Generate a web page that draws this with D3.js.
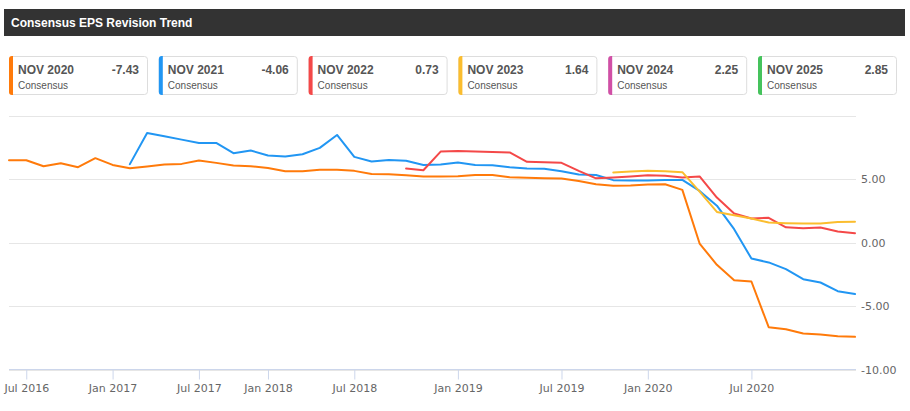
<!DOCTYPE html>
<html>
<head>
<meta charset="utf-8">
<script src="https://cdn.jsdelivr.net/npm/d3@7"></script>
<style>
  body { margin: 0; background: #fff; }
  svg { display: block; }
</style>
</head>
<body>
<svg id="chart" width="910" height="411"></svg>
<script>
// ---- data ----
const legendNames = ["NOV 2020", "NOV 2021", "NOV 2022", "NOV 2023", "NOV 2024", "NOV 2025"];
const legendValues = ["-7.43", "-4.06", "0.73", "1.64", "2.25", "2.85"];
const legendSub = "Consensus";
const colors = ["#ff7a0a", "#2196f3", "#f44848", "#fbbd2e", "#d14fa6", "#45c35c"];

const nov2020 = [6.48,6.48,6.00,6.24,5.93,6.64,6.11,5.85,5.98,6.14,6.19,6.45,6.27,6.06,6.01,5.87,5.61,5.61,5.72,5.72,5.64,5.40,5.38,5.30,5.20,5.20,5.22,5.32,5.32,5.14,5.09,5.06,5.04,4.85,4.59,4.46,4.49,4.57,4.59,4.14,-0.08,-1.76,-2.97,-3.07,-6.67,-6.83,-7.17,-7.24,-7.38,-7.43];
const nov2021 = [null,null,null,null,null,null,null,6.17,8.63,8.37,8.10,7.84,7.84,7.03,7.24,6.85,6.77,6.95,7.45,8.47,6.74,6.38,6.50,6.43,6.11,6.14,6.30,6.11,6.09,5.93,5.83,5.80,5.61,5.35,5.32,4.91,4.88,4.88,4.93,4.93,4.06,2.90,1.05,-1.26,-1.57,-2.10,-2.89,-3.15,-3.83,-4.06];
const nov2022 = [null,null,null,null,null,null,null,null,null,null,null,null,null,null,null,null,null,null,null,null,null,null,null,5.83,5.69,7.16,7.21,7.16,7.13,7.09,6.35,6.32,6.27,5.64,5.05,5.12,5.20,5.30,5.25,5.12,5.20,3.54,2.28,1.89,1.94,1.20,1.13,1.18,0.87,0.73];
const nov2023 = [null,null,null,null,null,null,null,null,null,null,null,null,null,null,null,null,null,null,null,null,null,null,null,null,null,null,null,null,null,null,null,null,null,null,null,5.51,5.59,5.64,5.61,5.54,4.00,2.41,2.15,1.89,1.57,1.52,1.50,1.50,1.62,1.64];
const seriesList = [nov2020, nov2021, nov2022, nov2023];

// x axis ticks: point index -> label (ordinal time axis)
const xTickIndex = [1, 6, 11, 15, 20, 26, 32, 37, 43];
const xTickLabels = ["Jul 2016", "Jan 2017", "Jul 2017", "Jan 2018", "Jul 2018", "Jan 2019", "Jul 2019", "Jan 2020", "Jul 2020"];
const yTicks = [-10, -5, 0, 5];
const yTickLabels = ["-10.00", "-5.00", "0.00", "5.00"];
const yGrid = [-10, -5, 0, 5, 10];

// ---- drawing ----
const svg = d3.select("#chart");

// title bar
svg.append("rect").attr("x", 4).attr("y", 9).attr("width", 901).attr("height", 27).attr("fill", "#333333");
svg.append("text").attr("x", 11).attr("y", 27)
  .attr("font-family", "Liberation Sans, Arial, sans-serif")
  .attr("font-size", 12).attr("font-weight", "bold").attr("fill", "#ffffff")
  .text("Consensus EPS Revision Trend");

// legend boxes
const lg = svg.selectAll("g.legend").data(legendNames).join("g")
  .attr("class", "legend")
  .attr("transform", (d, i) => `translate(${9 + i * 149.8},56)`);
lg.append("rect").attr("x", 0.5).attr("y", 0.5).attr("width", 138).attr("height", 38)
  .attr("rx", 3).attr("fill", "#fff").attr("stroke", "#dddddd");
lg.append("path").attr("d", "M4,0 H3 A3,3 0 0 0 0,3 V36 A3,3 0 0 0 3,39 H4 Z")
  .attr("fill", (d, i) => colors[i]);
lg.append("text").attr("x", 9).attr("y", 17.5)
  .attr("font-family", "Liberation Sans, Arial, sans-serif").attr("font-size", 12)
  .attr("font-weight", "bold").attr("fill", "#555").text(d => d);
lg.append("text").attr("x", 130).attr("y", 17.5).attr("text-anchor", "end")
  .attr("font-family", "Liberation Sans, Arial, sans-serif").attr("font-size", 12)
  .attr("font-weight", "bold").attr("fill", "#555").text((d, i) => legendValues[i]);
lg.append("text").attr("x", 9).attr("y", 32.5)
  .attr("font-family", "Liberation Sans, Arial, sans-serif").attr("font-size", 10)
  .attr("fill", "#555").text(legendSub);

// scales
const x = d3.scaleLinear().domain([0, nov2020.length - 1]).range([9, 855]);
const y = d3.scaleLinear().domain([-10, 10]).range([369.5, 115.5]);

// grid
svg.append("g").selectAll("line").data(yGrid).join("line")
  .attr("x1", 9).attr("x2", 856)
  .attr("y1", d => Math.round(y(d)) + 0.5).attr("y2", d => Math.round(y(d)) + 0.5)
  .attr("stroke", "#e6e6e6").attr("stroke-width", 1);

// y axis (right labels)
const yAxis = d3.axisRight(y).tickValues(yTicks).tickSize(0).tickPadding(0)
  .tickFormat((d, i) => yTickLabels[i]);
const gy = svg.append("g").attr("transform", "translate(861,0)").call(yAxis);
gy.select(".domain").remove();
gy.selectAll("text").attr("font-family", "DejaVu Sans, sans-serif").attr("font-size", 11)
  .attr("fill", "#666").attr("x", 0);

// x axis
const xAxis = d3.axisBottom(x).tickValues(xTickIndex).tickSize(10).tickPadding(5)
  .tickFormat((d, i) => xTickLabels[i]);
const gx = svg.append("g").attr("transform", "translate(0,369.5)").call(xAxis);
gx.select(".domain").attr("d", "M9,0H856").attr("stroke", "#ccd6eb");
gx.selectAll(".tick line").attr("stroke", "#ccd6eb");
gx.selectAll("text").attr("font-family", "DejaVu Sans, sans-serif").attr("font-size", 11)
  .attr("fill", "#666");

// lines
const line = d3.line().defined(d => d !== null).x((d, i) => x(i)).y(d => y(d));
seriesList.forEach((s, k) => {
  svg.append("path").datum(s).attr("d", line)
    .attr("fill", "none").attr("stroke", colors[k]).attr("stroke-width", 2)
    .attr("stroke-linejoin", "round").attr("stroke-linecap", "round");
});
</script>
</body>
</html>
